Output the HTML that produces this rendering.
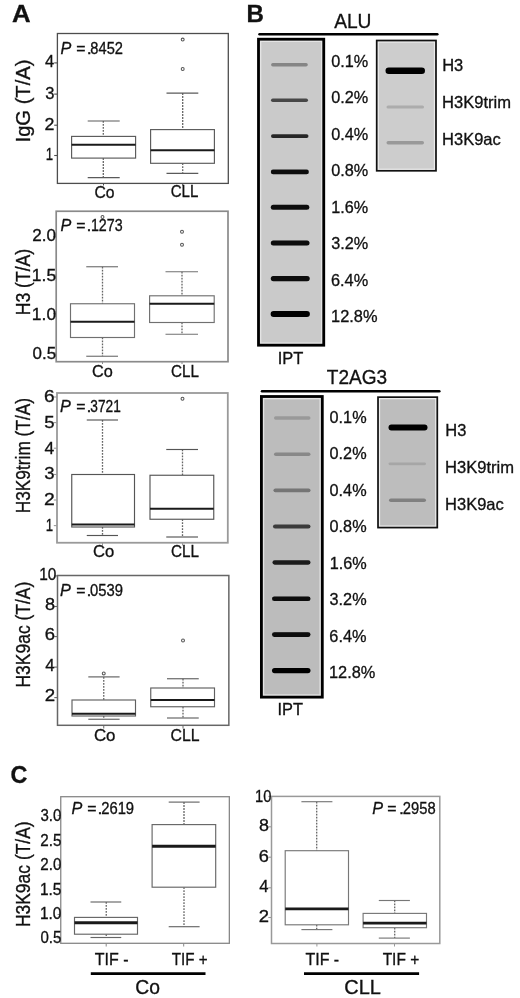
<!DOCTYPE html>
<html><head><meta charset="utf-8"><title>Figure</title>
<style>
html,body{margin:0;padding:0;background:#fff;}
body{width:520px;height:998px;overflow:hidden;}
svg{display:block;font-family:"Liberation Sans", sans-serif;filter:blur(0.35px);}
text{stroke:#111;stroke-width:0.32px;}
</style></head><body>
<svg width="520" height="998" viewBox="0 0 520 998">
<defs><filter id="bl" filterUnits="userSpaceOnUse" x="0" y="0" width="520" height="998"><feGaussianBlur stdDeviation="0.45"/></filter></defs>
<rect x="0" y="0" width="520" height="998" fill="#fff"/>
<text x="11.96" y="21.51" font-size="24.60" font-weight="bold" textLength="18.62" lengthAdjust="spacingAndGlyphs" fill="#111">A</text>
<rect x="57.40" y="33.50" width="170.90" height="149.90" stroke="#4d4d4d" stroke-width="1.30" fill="none"/>
<line x1="54.20" y1="62.90" x2="57.40" y2="62.90" stroke="#4d4d4d" stroke-width="1.10"/>
<line x1="54.20" y1="94.10" x2="57.40" y2="94.10" stroke="#4d4d4d" stroke-width="1.10"/>
<line x1="54.20" y1="125.20" x2="57.40" y2="125.20" stroke="#4d4d4d" stroke-width="1.10"/>
<line x1="54.20" y1="155.50" x2="57.40" y2="155.50" stroke="#4d4d4d" stroke-width="1.10"/>
<text x="44.92" y="67.29" font-size="16.70" textLength="9.16" lengthAdjust="spacingAndGlyphs" fill="#111">4</text>
<text x="45.17" y="98.60" font-size="16.70" textLength="9.21" lengthAdjust="spacingAndGlyphs" fill="#111">3</text>
<text x="44.61" y="129.93" font-size="16.70" textLength="9.89" lengthAdjust="spacingAndGlyphs" fill="#111">2</text>
<text x="45.69" y="160.39" font-size="16.70" textLength="7.35" lengthAdjust="spacingAndGlyphs" fill="#111">1</text>
<text transform="translate(29.90 140.60) rotate(-90)" x="-1.86" y="0" font-size="19.60" textLength="82.91" lengthAdjust="spacingAndGlyphs" fill="#111">IgG (T/A)</text>
<text x="60.40" y="53.75" font-size="16.40" font-style="italic" textLength="10.80" lengthAdjust="spacingAndGlyphs" fill="#111">P</text>
<text x="76.33" y="53.75" font-size="16.40" textLength="9.26" lengthAdjust="spacingAndGlyphs" fill="#111">=</text>
<text x="86.67" y="53.75" font-size="16.40" textLength="4.96" lengthAdjust="spacingAndGlyphs" fill="#111">.</text>
<text x="90.36" y="53.75" font-size="16.40" textLength="32.57" lengthAdjust="spacingAndGlyphs" fill="#111">8452</text>
<line x1="103.30" y1="121.00" x2="103.30" y2="136.40" stroke="#666" stroke-width="1.30" stroke-dasharray="1.8 1.2"/>
<line x1="103.30" y1="158.10" x2="103.30" y2="177.60" stroke="#666" stroke-width="1.30" stroke-dasharray="1.8 1.2"/>
<line x1="87.70" y1="121.00" x2="119.70" y2="121.00" stroke="#5a5a5a" stroke-width="1.15"/>
<line x1="87.70" y1="177.60" x2="119.70" y2="177.60" stroke="#5a5a5a" stroke-width="1.15"/>
<rect x="71.60" y="136.40" width="64.00" height="21.70" stroke="#5a5a5a" stroke-width="1.15" fill="#fff"/>
<line x1="71.60" y1="144.70" x2="135.60" y2="144.70" stroke="#1a1a1a" stroke-width="2.00"/>
<line x1="182.70" y1="93.10" x2="182.70" y2="129.60" stroke="#666" stroke-width="1.30" stroke-dasharray="1.8 1.2"/>
<line x1="182.70" y1="163.30" x2="182.70" y2="173.30" stroke="#666" stroke-width="1.30" stroke-dasharray="1.8 1.2"/>
<line x1="166.50" y1="93.10" x2="198.30" y2="93.10" stroke="#5a5a5a" stroke-width="1.15"/>
<line x1="166.50" y1="173.30" x2="198.30" y2="173.30" stroke="#5a5a5a" stroke-width="1.15"/>
<rect x="150.60" y="129.60" width="63.80" height="33.70" stroke="#5a5a5a" stroke-width="1.15" fill="#fff"/>
<line x1="150.60" y1="150.20" x2="214.40" y2="150.20" stroke="#1a1a1a" stroke-width="2.00"/>
<circle cx="182.70" cy="39.60" r="1.45" fill="none" stroke="#555" stroke-width="1.05"/>
<circle cx="182.70" cy="69.00" r="1.45" fill="none" stroke="#555" stroke-width="1.05"/>
<line x1="103.50" y1="183.40" x2="103.50" y2="185.50" stroke="#4d4d4d" stroke-width="1.00"/>
<line x1="182.70" y1="183.40" x2="182.70" y2="185.50" stroke="#4d4d4d" stroke-width="1.00"/>
<text x="94.50" y="197.54" font-size="16.90" textLength="20.06" lengthAdjust="spacingAndGlyphs" fill="#111">Co</text>
<text x="170.73" y="197.42" font-size="16.90" textLength="27.67" lengthAdjust="spacingAndGlyphs" fill="#111">CLL</text>
<rect x="56.20" y="211.25" width="171.80" height="150.45" stroke="#8a8a8a" stroke-width="1.70" fill="none"/>
<line x1="53.00" y1="236.75" x2="56.20" y2="236.75" stroke="#8a8a8a" stroke-width="1.10"/>
<line x1="53.00" y1="275.00" x2="56.20" y2="275.00" stroke="#8a8a8a" stroke-width="1.10"/>
<line x1="53.00" y1="313.75" x2="56.20" y2="313.75" stroke="#8a8a8a" stroke-width="1.10"/>
<line x1="53.00" y1="353.00" x2="56.20" y2="353.00" stroke="#8a8a8a" stroke-width="1.10"/>
<text x="32.34" y="241.20" font-size="16.70" textLength="23.72" lengthAdjust="spacingAndGlyphs" fill="#111">2.0</text>
<text x="31.87" y="280.61" font-size="16.70" textLength="24.26" lengthAdjust="spacingAndGlyphs" fill="#111">1.5</text>
<text x="31.87" y="319.50" font-size="16.70" textLength="24.21" lengthAdjust="spacingAndGlyphs" fill="#111">1.0</text>
<text x="32.54" y="359.20" font-size="16.70" textLength="23.57" lengthAdjust="spacingAndGlyphs" fill="#111">0.5</text>
<text transform="translate(29.90 313.80) rotate(-90)" x="-1.44" y="0" font-size="19.60" textLength="66.43" lengthAdjust="spacingAndGlyphs" fill="#111">H3 (T/A)</text>
<text x="60.40" y="231.30" font-size="16.40" font-style="italic" textLength="10.80" lengthAdjust="spacingAndGlyphs" fill="#111">P</text>
<text x="76.23" y="231.30" font-size="16.40" textLength="9.26" lengthAdjust="spacingAndGlyphs" fill="#111">=</text>
<text x="86.47" y="231.30" font-size="16.40" textLength="4.96" lengthAdjust="spacingAndGlyphs" fill="#111">.</text>
<text x="90.91" y="231.30" font-size="16.40" textLength="31.71" lengthAdjust="spacingAndGlyphs" fill="#111">1273</text>
<line x1="102.50" y1="266.75" x2="102.50" y2="303.75" stroke="#666" stroke-width="1.30" stroke-dasharray="1.8 1.2"/>
<line x1="102.50" y1="337.50" x2="102.50" y2="356.25" stroke="#666" stroke-width="1.30" stroke-dasharray="1.8 1.2"/>
<line x1="86.25" y1="266.75" x2="118.00" y2="266.75" stroke="#707070" stroke-width="1.15"/>
<line x1="86.25" y1="356.25" x2="118.00" y2="356.25" stroke="#707070" stroke-width="1.15"/>
<rect x="70.50" y="303.75" width="64.00" height="33.75" stroke="#707070" stroke-width="1.15" fill="#fff"/>
<line x1="70.50" y1="321.75" x2="134.50" y2="321.75" stroke="#1a1a1a" stroke-width="2.00"/>
<circle cx="102.50" cy="217.00" r="1.45" fill="none" stroke="#555" stroke-width="1.05"/>
<line x1="182.00" y1="271.75" x2="182.00" y2="295.80" stroke="#666" stroke-width="1.30" stroke-dasharray="1.8 1.2"/>
<line x1="182.00" y1="322.50" x2="182.00" y2="334.25" stroke="#666" stroke-width="1.30" stroke-dasharray="1.8 1.2"/>
<line x1="165.50" y1="271.75" x2="198.00" y2="271.75" stroke="#707070" stroke-width="1.15"/>
<line x1="165.50" y1="334.25" x2="198.00" y2="334.25" stroke="#707070" stroke-width="1.15"/>
<rect x="149.60" y="295.80" width="64.60" height="26.70" stroke="#707070" stroke-width="1.15" fill="#fff"/>
<line x1="149.60" y1="303.80" x2="214.20" y2="303.80" stroke="#1a1a1a" stroke-width="2.00"/>
<circle cx="182.00" cy="231.75" r="1.45" fill="none" stroke="#555" stroke-width="1.05"/>
<circle cx="182.00" cy="244.75" r="1.45" fill="none" stroke="#555" stroke-width="1.05"/>
<line x1="102.50" y1="361.70" x2="102.50" y2="364.00" stroke="#8a8a8a" stroke-width="1.00"/>
<line x1="182.00" y1="361.70" x2="182.00" y2="364.00" stroke="#8a8a8a" stroke-width="1.00"/>
<text x="92.07" y="377.07" font-size="16.90" textLength="20.81" lengthAdjust="spacingAndGlyphs" fill="#111">Co</text>
<text x="171.03" y="377.07" font-size="16.90" textLength="27.88" lengthAdjust="spacingAndGlyphs" fill="#111">CLL</text>
<rect x="57.00" y="393.00" width="170.80" height="149.75" stroke="#9a9a9a" stroke-width="1.80" fill="none"/>
<line x1="53.80" y1="397.00" x2="57.00" y2="397.00" stroke="#9a9a9a" stroke-width="1.10"/>
<line x1="53.80" y1="422.60" x2="57.00" y2="422.60" stroke="#9a9a9a" stroke-width="1.10"/>
<line x1="53.80" y1="448.20" x2="57.00" y2="448.20" stroke="#9a9a9a" stroke-width="1.10"/>
<line x1="53.80" y1="474.50" x2="57.00" y2="474.50" stroke="#9a9a9a" stroke-width="1.10"/>
<line x1="53.80" y1="500.00" x2="57.00" y2="500.00" stroke="#9a9a9a" stroke-width="1.10"/>
<line x1="53.80" y1="525.60" x2="57.00" y2="525.60" stroke="#9a9a9a" stroke-width="1.10"/>
<text x="43.93" y="401.95" font-size="16.70" textLength="10.61" lengthAdjust="spacingAndGlyphs" fill="#111">6</text>
<text x="44.16" y="427.56" font-size="16.70" textLength="10.32" lengthAdjust="spacingAndGlyphs" fill="#111">5</text>
<text x="44.50" y="453.84" font-size="16.70" textLength="9.71" lengthAdjust="spacingAndGlyphs" fill="#111">4</text>
<text x="44.19" y="479.45" font-size="16.70" textLength="10.32" lengthAdjust="spacingAndGlyphs" fill="#111">3</text>
<text x="43.93" y="505.13" font-size="16.70" textLength="10.74" lengthAdjust="spacingAndGlyphs" fill="#111">2</text>
<text x="45.69" y="530.54" font-size="16.70" textLength="7.35" lengthAdjust="spacingAndGlyphs" fill="#111">1</text>
<text transform="translate(29.60 511.90) rotate(-90)" x="-1.42" y="0" font-size="19.60" textLength="115.39" lengthAdjust="spacingAndGlyphs" fill="#111">H3K9trim (T/A)</text>
<text x="60.10" y="411.90" font-size="16.40" font-style="italic" textLength="10.80" lengthAdjust="spacingAndGlyphs" fill="#111">P</text>
<text x="76.23" y="411.90" font-size="16.40" textLength="9.26" lengthAdjust="spacingAndGlyphs" fill="#111">=</text>
<text x="86.47" y="411.90" font-size="16.40" textLength="4.96" lengthAdjust="spacingAndGlyphs" fill="#111">.</text>
<text x="90.28" y="411.90" font-size="16.40" textLength="30.49" lengthAdjust="spacingAndGlyphs" fill="#111">3721</text>
<line x1="102.50" y1="420.00" x2="102.50" y2="474.50" stroke="#666" stroke-width="1.30" stroke-dasharray="1.8 1.2"/>
<line x1="102.50" y1="527.00" x2="102.50" y2="535.50" stroke="#666" stroke-width="1.30" stroke-dasharray="1.8 1.2"/>
<line x1="86.75" y1="420.00" x2="118.00" y2="420.00" stroke="#555" stroke-width="1.15"/>
<line x1="86.75" y1="535.50" x2="118.00" y2="535.50" stroke="#555" stroke-width="1.15"/>
<rect x="71.75" y="474.50" width="62.75" height="52.50" stroke="#555" stroke-width="1.15" fill="#fff"/>
<line x1="71.75" y1="524.50" x2="134.50" y2="524.50" stroke="#1a1a1a" stroke-width="2.00"/>
<line x1="182.50" y1="449.50" x2="182.50" y2="475.25" stroke="#666" stroke-width="1.30" stroke-dasharray="1.8 1.2"/>
<line x1="182.50" y1="519.25" x2="182.50" y2="537.00" stroke="#666" stroke-width="1.30" stroke-dasharray="1.8 1.2"/>
<line x1="166.25" y1="449.50" x2="198.00" y2="449.50" stroke="#555" stroke-width="1.15"/>
<line x1="166.25" y1="537.00" x2="198.00" y2="537.00" stroke="#555" stroke-width="1.15"/>
<rect x="150.00" y="475.25" width="63.75" height="44.00" stroke="#555" stroke-width="1.15" fill="#fff"/>
<line x1="150.00" y1="508.75" x2="213.75" y2="508.75" stroke="#1a1a1a" stroke-width="2.00"/>
<circle cx="182.50" cy="398.75" r="1.45" fill="none" stroke="#555" stroke-width="1.05"/>
<line x1="102.50" y1="542.75" x2="102.50" y2="545.50" stroke="#9a9a9a" stroke-width="1.00"/>
<line x1="182.50" y1="542.75" x2="182.50" y2="545.50" stroke="#9a9a9a" stroke-width="1.00"/>
<text x="92.96" y="557.27" font-size="16.90" textLength="21.24" lengthAdjust="spacingAndGlyphs" fill="#111">Co</text>
<text x="170.93" y="557.47" font-size="16.90" textLength="27.98" lengthAdjust="spacingAndGlyphs" fill="#111">CLL</text>
<rect x="57.50" y="575.50" width="171.35" height="149.80" stroke="#666" stroke-width="1.50" fill="none"/>
<line x1="54.30" y1="575.90" x2="57.50" y2="575.90" stroke="#666" stroke-width="1.10"/>
<line x1="54.30" y1="606.50" x2="57.50" y2="606.50" stroke="#666" stroke-width="1.10"/>
<line x1="54.30" y1="636.60" x2="57.50" y2="636.60" stroke="#666" stroke-width="1.10"/>
<line x1="54.30" y1="667.10" x2="57.50" y2="667.10" stroke="#666" stroke-width="1.10"/>
<line x1="54.30" y1="697.60" x2="57.50" y2="697.60" stroke="#666" stroke-width="1.10"/>
<text x="39.22" y="579.60" font-size="16.70" textLength="17.18" lengthAdjust="spacingAndGlyphs" fill="#111">10</text>
<text x="44.91" y="609.60" font-size="16.70" textLength="10.07" lengthAdjust="spacingAndGlyphs" fill="#111">8</text>
<text x="44.76" y="640.15" font-size="16.70" textLength="10.24" lengthAdjust="spacingAndGlyphs" fill="#111">6</text>
<text x="45.31" y="670.64" font-size="16.70" textLength="9.38" lengthAdjust="spacingAndGlyphs" fill="#111">4</text>
<text x="44.76" y="700.83" font-size="16.70" textLength="10.38" lengthAdjust="spacingAndGlyphs" fill="#111">2</text>
<text transform="translate(29.60 686.10) rotate(-90)" x="-1.43" y="0" font-size="19.60" textLength="105.82" lengthAdjust="spacingAndGlyphs" fill="#111">H3K9ac (T/A)</text>
<text x="60.10" y="596.25" font-size="16.40" font-style="italic" textLength="10.80" lengthAdjust="spacingAndGlyphs" fill="#111">P</text>
<text x="76.23" y="596.25" font-size="16.40" textLength="9.26" lengthAdjust="spacingAndGlyphs" fill="#111">=</text>
<text x="86.47" y="596.25" font-size="16.40" textLength="4.96" lengthAdjust="spacingAndGlyphs" fill="#111">.</text>
<text x="90.02" y="596.25" font-size="16.40" textLength="32.98" lengthAdjust="spacingAndGlyphs" fill="#111">0539</text>
<line x1="103.75" y1="676.90" x2="103.75" y2="700.00" stroke="#666" stroke-width="1.30" stroke-dasharray="1.8 1.2"/>
<line x1="103.75" y1="716.00" x2="103.75" y2="719.25" stroke="#666" stroke-width="1.30" stroke-dasharray="1.8 1.2"/>
<line x1="88.30" y1="676.90" x2="119.60" y2="676.90" stroke="#606060" stroke-width="1.15"/>
<line x1="88.30" y1="719.25" x2="119.60" y2="719.25" stroke="#606060" stroke-width="1.15"/>
<rect x="72.00" y="700.00" width="63.50" height="16.00" stroke="#606060" stroke-width="1.15" fill="#fff"/>
<line x1="72.00" y1="713.70" x2="135.50" y2="713.70" stroke="#1a1a1a" stroke-width="2.00"/>
<circle cx="103.75" cy="673.40" r="1.45" fill="none" stroke="#555" stroke-width="1.05"/>
<line x1="183.00" y1="678.75" x2="183.00" y2="688.00" stroke="#666" stroke-width="1.30" stroke-dasharray="1.8 1.2"/>
<line x1="183.00" y1="706.75" x2="183.00" y2="718.00" stroke="#666" stroke-width="1.30" stroke-dasharray="1.8 1.2"/>
<line x1="167.00" y1="678.75" x2="198.75" y2="678.75" stroke="#606060" stroke-width="1.15"/>
<line x1="167.00" y1="718.00" x2="198.75" y2="718.00" stroke="#606060" stroke-width="1.15"/>
<rect x="150.75" y="688.00" width="63.75" height="18.75" stroke="#606060" stroke-width="1.15" fill="#fff"/>
<line x1="150.75" y1="700.00" x2="214.50" y2="700.00" stroke="#1a1a1a" stroke-width="2.00"/>
<circle cx="183.00" cy="640.50" r="1.45" fill="none" stroke="#555" stroke-width="1.05"/>
<line x1="103.75" y1="725.50" x2="103.75" y2="728.50" stroke="#666" stroke-width="1.00"/>
<line x1="183.00" y1="725.50" x2="183.00" y2="728.50" stroke="#666" stroke-width="1.00"/>
<text x="93.94" y="740.62" font-size="16.90" textLength="21.57" lengthAdjust="spacingAndGlyphs" fill="#111">Co</text>
<text x="170.50" y="740.62" font-size="16.90" textLength="29.03" lengthAdjust="spacingAndGlyphs" fill="#111">CLL</text>
<text x="246.59" y="21.79" font-size="24.40" font-weight="bold" textLength="17.41" lengthAdjust="spacingAndGlyphs" fill="#111">B</text>
<text x="334.16" y="27.51" font-size="19.80" textLength="37.32" lengthAdjust="spacingAndGlyphs" fill="#111">ALU</text>
<text x="326.77" y="384.12" font-size="19.80" textLength="60.26" lengthAdjust="spacingAndGlyphs" fill="#111">T2AG3</text>
<line x1="259.5" y1="34.15" x2="437.3" y2="34.15" stroke="#000" stroke-width="2.5" stroke-linecap="round"/>
<line x1="262.0" y1="391.35" x2="439.3" y2="391.35" stroke="#000" stroke-width="2.5" stroke-linecap="round"/>
<rect x="258.50" y="39.20" width="65.25" height="306.00" fill="#cacaca"/>
<rect x="260.60" y="41.30" width="61.05" height="301.80" fill="none" stroke="#e4e4e4" stroke-width="1.4"/>
<line x1="272.80" y1="64.75" x2="306.10" y2="64.75" stroke="#858585" stroke-width="3.40" stroke-linecap="round" filter="url(#bl)"/>
<line x1="272.75" y1="100.30" x2="306.25" y2="100.30" stroke="#474747" stroke-width="3.50" stroke-linecap="round" filter="url(#bl)"/>
<line x1="272.85" y1="136.10" x2="306.65" y2="136.10" stroke="#282828" stroke-width="3.70" stroke-linecap="round" filter="url(#bl)"/>
<line x1="273.10" y1="171.90" x2="306.60" y2="171.90" stroke="#111" stroke-width="4.60" stroke-linecap="round" filter="url(#bl)"/>
<line x1="273.30" y1="207.30" x2="306.80" y2="207.30" stroke="#0c0c0c" stroke-width="5.00" stroke-linecap="round" filter="url(#bl)"/>
<line x1="273.30" y1="243.00" x2="307.00" y2="243.00" stroke="#0a0a0a" stroke-width="5.00" stroke-linecap="round" filter="url(#bl)"/>
<line x1="273.40" y1="278.60" x2="307.10" y2="278.60" stroke="#080808" stroke-width="5.20" stroke-linecap="round" filter="url(#bl)"/>
<line x1="273.60" y1="313.90" x2="306.90" y2="313.90" stroke="#050505" stroke-width="6.00" stroke-linecap="round" filter="url(#bl)"/>
<rect x="258.50" y="39.20" width="65.25" height="306.00" fill="none" stroke="#000" stroke-width="2.80"/>
<rect x="261.40" y="396.50" width="60.90" height="300.65" fill="#bcbcbc"/>
<rect x="263.50" y="398.60" width="56.70" height="296.45" fill="none" stroke="#e4e4e4" stroke-width="1.4"/>
<line x1="275.65" y1="418.00" x2="308.85" y2="418.00" stroke="#999" stroke-width="3.30" stroke-linecap="round" filter="url(#bl)"/>
<line x1="275.80" y1="454.20" x2="308.70" y2="454.20" stroke="#888" stroke-width="3.60" stroke-linecap="round" filter="url(#bl)"/>
<line x1="275.35" y1="490.30" x2="308.65" y2="490.30" stroke="#747474" stroke-width="3.70" stroke-linecap="round" filter="url(#bl)"/>
<line x1="275.10" y1="526.50" x2="308.40" y2="526.50" stroke="#3a3a3a" stroke-width="4.20" stroke-linecap="round" filter="url(#bl)"/>
<line x1="274.65" y1="562.50" x2="308.35" y2="562.50" stroke="#1a1a1a" stroke-width="4.30" stroke-linecap="round" filter="url(#bl)"/>
<line x1="274.25" y1="598.70" x2="308.25" y2="598.70" stroke="#0a0a0a" stroke-width="4.50" stroke-linecap="round" filter="url(#bl)"/>
<line x1="274.35" y1="634.60" x2="308.15" y2="634.60" stroke="#080808" stroke-width="4.70" stroke-linecap="round" filter="url(#bl)"/>
<line x1="274.60" y1="670.60" x2="307.90" y2="670.60" stroke="#050505" stroke-width="5.20" stroke-linecap="round" filter="url(#bl)"/>
<rect x="261.40" y="396.50" width="60.90" height="300.65" fill="none" stroke="#000" stroke-width="2.80"/>
<text x="331.17" y="67.05" font-size="17.00" textLength="37.01" lengthAdjust="spacingAndGlyphs" fill="#111">0.1%</text>
<text x="331.17" y="103.48" font-size="17.00" textLength="37.01" lengthAdjust="spacingAndGlyphs" fill="#111">0.2%</text>
<text x="331.17" y="139.91" font-size="17.00" textLength="37.01" lengthAdjust="spacingAndGlyphs" fill="#111">0.4%</text>
<text x="331.17" y="176.34" font-size="17.00" textLength="37.01" lengthAdjust="spacingAndGlyphs" fill="#111">0.8%</text>
<text x="331.27" y="212.77" font-size="17.00" textLength="36.91" lengthAdjust="spacingAndGlyphs" fill="#111">1.6%</text>
<text x="331.18" y="249.20" font-size="17.00" textLength="37.00" lengthAdjust="spacingAndGlyphs" fill="#111">3.2%</text>
<text x="330.97" y="285.63" font-size="17.00" textLength="37.21" lengthAdjust="spacingAndGlyphs" fill="#111">6.4%</text>
<text x="331.05" y="322.06" font-size="17.00" textLength="46.43" lengthAdjust="spacingAndGlyphs" fill="#111">12.8%</text>
<text x="329.57" y="423.05" font-size="17.00" textLength="37.01" lengthAdjust="spacingAndGlyphs" fill="#111">0.1%</text>
<text x="329.57" y="459.48" font-size="17.00" textLength="37.01" lengthAdjust="spacingAndGlyphs" fill="#111">0.2%</text>
<text x="329.57" y="495.91" font-size="17.00" textLength="37.01" lengthAdjust="spacingAndGlyphs" fill="#111">0.4%</text>
<text x="329.57" y="532.34" font-size="17.00" textLength="37.01" lengthAdjust="spacingAndGlyphs" fill="#111">0.8%</text>
<text x="329.76" y="568.77" font-size="17.00" textLength="37.02" lengthAdjust="spacingAndGlyphs" fill="#111">1.6%</text>
<text x="329.58" y="605.20" font-size="17.00" textLength="37.00" lengthAdjust="spacingAndGlyphs" fill="#111">3.2%</text>
<text x="329.37" y="641.63" font-size="17.00" textLength="37.21" lengthAdjust="spacingAndGlyphs" fill="#111">6.4%</text>
<text x="328.95" y="678.06" font-size="17.00" textLength="46.43" lengthAdjust="spacingAndGlyphs" fill="#111">12.8%</text>
<text x="277.68" y="363.70" font-size="17.00" textLength="25.60" lengthAdjust="spacingAndGlyphs" fill="#111">IPT</text>
<text x="277.49" y="714.90" font-size="17.00" textLength="25.49" lengthAdjust="spacingAndGlyphs" fill="#111">IPT</text>
<rect x="376.70" y="40.50" width="59.30" height="130.30" fill="#cdcdcd"/>
<rect x="378.20" y="42.00" width="56.30" height="127.30" fill="none" stroke="#ececec" stroke-width="1.3"/>
<line x1="388.75" y1="70.75" x2="421.75" y2="70.75" stroke="#000" stroke-width="6.50" stroke-linecap="round" filter="url(#bl)"/>
<line x1="388.00" y1="107.00" x2="422.50" y2="107.00" stroke="#acacac" stroke-width="3.00" stroke-linecap="round" filter="url(#bl)"/>
<line x1="388.20" y1="142.75" x2="422.30" y2="142.75" stroke="#999" stroke-width="3.40" stroke-linecap="round" filter="url(#bl)"/>
<rect x="376.70" y="40.50" width="59.30" height="130.30" fill="none" stroke="#111" stroke-width="1.70"/>
<rect x="378.00" y="397.15" width="59.30" height="130.45" fill="#bdbdbd"/>
<rect x="379.50" y="398.65" width="56.30" height="127.45" fill="none" stroke="#ececec" stroke-width="1.3"/>
<line x1="391.40" y1="427.50" x2="424.60" y2="427.50" stroke="#050505" stroke-width="5.80" stroke-linecap="round" filter="url(#bl)"/>
<line x1="389.90" y1="463.80" x2="424.60" y2="463.80" stroke="#a6a6a6" stroke-width="2.80" stroke-linecap="round" filter="url(#bl)"/>
<line x1="390.80" y1="500.30" x2="424.20" y2="500.30" stroke="#808080" stroke-width="3.60" stroke-linecap="round" filter="url(#bl)"/>
<rect x="378.00" y="397.15" width="59.30" height="130.45" fill="none" stroke="#111" stroke-width="1.70"/>
<text x="442.15" y="71.18" font-size="16.50" textLength="21.08" lengthAdjust="spacingAndGlyphs" fill="#111">H3</text>
<text x="442.04" y="108.30" font-size="16.50" textLength="69.05" lengthAdjust="spacingAndGlyphs" fill="#111">H3K9trim</text>
<text x="442.05" y="145.48" font-size="16.50" textLength="58.69" lengthAdjust="spacingAndGlyphs" fill="#111">H3K9ac</text>
<text x="445.25" y="436.48" font-size="16.50" textLength="21.08" lengthAdjust="spacingAndGlyphs" fill="#111">H3</text>
<text x="445.04" y="472.90" font-size="16.50" textLength="69.05" lengthAdjust="spacingAndGlyphs" fill="#111">H3K9trim</text>
<text x="445.05" y="510.28" font-size="16.50" textLength="58.69" lengthAdjust="spacingAndGlyphs" fill="#111">H3K9ac</text>
<text x="10.44" y="783.35" font-size="24.40" font-weight="bold" textLength="16.90" lengthAdjust="spacingAndGlyphs" fill="#111">C</text>
<rect x="60.75" y="796.70" width="168.60" height="146.60" stroke="#888" stroke-width="1.30" fill="none"/>
<line x1="57.55" y1="815.50" x2="60.75" y2="815.50" stroke="#888" stroke-width="1.10"/>
<line x1="57.55" y1="840.50" x2="60.75" y2="840.50" stroke="#888" stroke-width="1.10"/>
<line x1="57.55" y1="865.00" x2="60.75" y2="865.00" stroke="#888" stroke-width="1.10"/>
<line x1="57.55" y1="889.50" x2="60.75" y2="889.50" stroke="#888" stroke-width="1.10"/>
<line x1="57.55" y1="914.50" x2="60.75" y2="914.50" stroke="#888" stroke-width="1.10"/>
<line x1="57.55" y1="938.00" x2="60.75" y2="938.00" stroke="#888" stroke-width="1.10"/>
<text x="40.53" y="821.28" font-size="16.80" textLength="20.86" lengthAdjust="spacingAndGlyphs" fill="#111">3.0</text>
<text x="40.34" y="845.88" font-size="16.80" textLength="21.10" lengthAdjust="spacingAndGlyphs" fill="#111">2.5</text>
<text x="40.34" y="870.38" font-size="16.80" textLength="21.05" lengthAdjust="spacingAndGlyphs" fill="#111">2.0</text>
<text x="39.92" y="894.80" font-size="16.80" textLength="21.53" lengthAdjust="spacingAndGlyphs" fill="#111">1.5</text>
<text x="39.92" y="919.48" font-size="16.80" textLength="21.48" lengthAdjust="spacingAndGlyphs" fill="#111">1.0</text>
<text x="40.51" y="943.28" font-size="16.80" textLength="20.92" lengthAdjust="spacingAndGlyphs" fill="#111">0.5</text>
<text transform="translate(29.90 925.70) rotate(-90)" x="-1.43" y="0" font-size="19.60" textLength="105.82" lengthAdjust="spacingAndGlyphs" fill="#111">H3K9ac (T/A)</text>
<text x="71.40" y="813.95" font-size="16.40" font-style="italic" textLength="10.80" lengthAdjust="spacingAndGlyphs" fill="#111">P</text>
<text x="87.23" y="813.95" font-size="16.40" textLength="9.26" lengthAdjust="spacingAndGlyphs" fill="#111">=</text>
<text x="97.57" y="813.95" font-size="16.40" textLength="4.96" lengthAdjust="spacingAndGlyphs" fill="#111">.</text>
<text x="101.16" y="813.95" font-size="16.40" textLength="32.95" lengthAdjust="spacingAndGlyphs" fill="#111">2619</text>
<line x1="106.25" y1="902.00" x2="106.25" y2="917.40" stroke="#666" stroke-width="1.30" stroke-dasharray="1.8 1.2"/>
<line x1="106.25" y1="934.20" x2="106.25" y2="937.50" stroke="#666" stroke-width="1.30" stroke-dasharray="1.8 1.2"/>
<line x1="90.50" y1="902.00" x2="121.25" y2="902.00" stroke="#666" stroke-width="1.15"/>
<line x1="90.50" y1="937.50" x2="121.25" y2="937.50" stroke="#666" stroke-width="1.15"/>
<rect x="74.50" y="917.40" width="63.00" height="16.80" stroke="#666" stroke-width="1.15" fill="#fff"/>
<line x1="74.50" y1="922.80" x2="137.50" y2="922.80" stroke="#1a1a1a" stroke-width="2.90"/>
<line x1="184.00" y1="802.10" x2="184.00" y2="824.60" stroke="#666" stroke-width="1.30" stroke-dasharray="1.8 1.2"/>
<line x1="184.00" y1="887.20" x2="184.00" y2="926.70" stroke="#666" stroke-width="1.30" stroke-dasharray="1.8 1.2"/>
<line x1="168.70" y1="802.10" x2="199.60" y2="802.10" stroke="#666" stroke-width="1.15"/>
<line x1="168.70" y1="926.70" x2="199.60" y2="926.70" stroke="#666" stroke-width="1.15"/>
<rect x="152.10" y="824.60" width="63.60" height="62.60" stroke="#666" stroke-width="1.15" fill="#fff"/>
<line x1="152.10" y1="846.30" x2="215.70" y2="846.30" stroke="#1a1a1a" stroke-width="2.90"/>
<line x1="106.20" y1="943.40" x2="106.20" y2="946.50" stroke="#888" stroke-width="1.00"/>
<line x1="183.70" y1="943.40" x2="183.70" y2="946.50" stroke="#888" stroke-width="1.00"/>
<text x="94.74" y="964.78" font-size="16.80" textLength="33.77" lengthAdjust="spacingAndGlyphs" fill="#111">TIF -</text>
<text x="171.66" y="964.78" font-size="16.80" textLength="35.89" lengthAdjust="spacingAndGlyphs" fill="#111">TIF +</text>
<line x1="90.80" y1="973.60" x2="205.50" y2="973.60" stroke="#000" stroke-width="2.80"/>
<text x="135.22" y="993.82" font-size="19.80" textLength="24.69" lengthAdjust="spacingAndGlyphs" fill="#111">Co</text>
<rect x="271.50" y="796.40" width="168.30" height="147.10" stroke="#999" stroke-width="1.50" fill="none"/>
<line x1="268.30" y1="796.40" x2="271.50" y2="796.40" stroke="#999" stroke-width="1.10"/>
<line x1="268.30" y1="826.80" x2="271.50" y2="826.80" stroke="#999" stroke-width="1.10"/>
<line x1="268.30" y1="857.20" x2="271.50" y2="857.20" stroke="#999" stroke-width="1.10"/>
<line x1="268.30" y1="887.80" x2="271.50" y2="887.80" stroke="#999" stroke-width="1.10"/>
<line x1="268.30" y1="917.50" x2="271.50" y2="917.50" stroke="#999" stroke-width="1.10"/>
<text x="255.08" y="801.63" font-size="16.80" textLength="16.40" lengthAdjust="spacingAndGlyphs" fill="#111">10</text>
<text x="258.92" y="830.78" font-size="16.80" textLength="9.96" lengthAdjust="spacingAndGlyphs" fill="#111">8</text>
<text x="258.78" y="861.58" font-size="16.80" textLength="10.12" lengthAdjust="spacingAndGlyphs" fill="#111">6</text>
<text x="259.32" y="891.78" font-size="16.80" textLength="9.27" lengthAdjust="spacingAndGlyphs" fill="#111">4</text>
<text x="258.77" y="921.97" font-size="16.80" textLength="10.25" lengthAdjust="spacingAndGlyphs" fill="#111">2</text>
<text x="372.20" y="814.10" font-size="16.40" font-style="italic" textLength="10.80" lengthAdjust="spacingAndGlyphs" fill="#111">P</text>
<text x="387.23" y="814.10" font-size="16.40" textLength="9.26" lengthAdjust="spacingAndGlyphs" fill="#111">=</text>
<text x="399.07" y="814.10" font-size="16.40" textLength="4.96" lengthAdjust="spacingAndGlyphs" fill="#111">.</text>
<text x="402.86" y="814.10" font-size="16.40" textLength="32.78" lengthAdjust="spacingAndGlyphs" fill="#111">2958</text>
<line x1="316.70" y1="801.70" x2="316.70" y2="850.70" stroke="#666" stroke-width="1.30" stroke-dasharray="1.8 1.2"/>
<line x1="316.70" y1="924.80" x2="316.70" y2="929.60" stroke="#666" stroke-width="1.30" stroke-dasharray="1.8 1.2"/>
<line x1="301.40" y1="801.70" x2="332.40" y2="801.70" stroke="#777" stroke-width="1.15"/>
<line x1="301.40" y1="929.60" x2="332.40" y2="929.60" stroke="#777" stroke-width="1.15"/>
<rect x="285.20" y="850.70" width="63.30" height="74.10" stroke="#777" stroke-width="1.15" fill="#fff"/>
<line x1="285.20" y1="908.90" x2="348.50" y2="908.90" stroke="#1a1a1a" stroke-width="2.90"/>
<line x1="394.70" y1="900.50" x2="394.70" y2="913.40" stroke="#666" stroke-width="1.30" stroke-dasharray="1.8 1.2"/>
<line x1="394.70" y1="927.70" x2="394.70" y2="938.10" stroke="#666" stroke-width="1.30" stroke-dasharray="1.8 1.2"/>
<line x1="378.80" y1="900.50" x2="409.90" y2="900.50" stroke="#777" stroke-width="1.15"/>
<line x1="378.80" y1="938.10" x2="409.90" y2="938.10" stroke="#777" stroke-width="1.15"/>
<rect x="363.10" y="913.40" width="63.40" height="14.30" stroke="#777" stroke-width="1.15" fill="#fff"/>
<line x1="363.10" y1="923.10" x2="426.50" y2="923.10" stroke="#1a1a1a" stroke-width="2.90"/>
<line x1="316.90" y1="943.60" x2="316.90" y2="946.50" stroke="#999" stroke-width="1.00"/>
<line x1="394.50" y1="943.60" x2="394.50" y2="946.50" stroke="#999" stroke-width="1.00"/>
<text x="305.44" y="964.78" font-size="16.80" textLength="33.77" lengthAdjust="spacingAndGlyphs" fill="#111">TIF -</text>
<text x="382.65" y="964.78" font-size="16.80" textLength="36.61" lengthAdjust="spacingAndGlyphs" fill="#111">TIF +</text>
<line x1="304.00" y1="973.60" x2="419.10" y2="973.60" stroke="#000" stroke-width="2.80"/>
<text x="344.29" y="993.82" font-size="19.80" textLength="36.57" lengthAdjust="spacingAndGlyphs" fill="#111">CLL</text>
</svg>
</body></html>
